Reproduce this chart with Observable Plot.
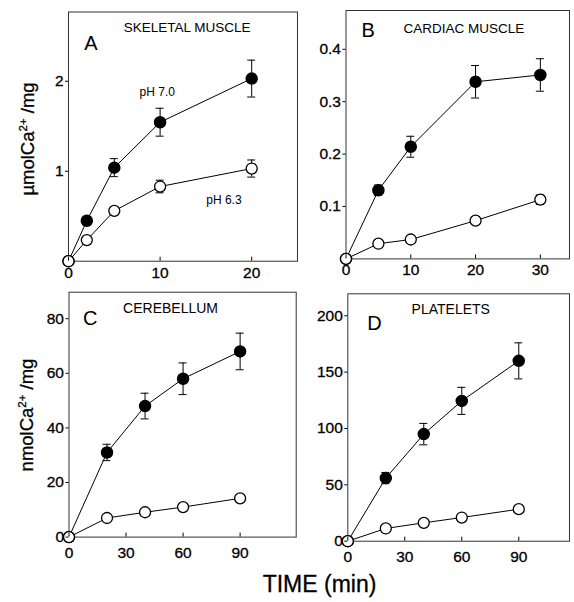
<!DOCTYPE html>
<html><head><meta charset="utf-8">
<script src="https://cdn.jsdelivr.net/npm/d3@7"></script>
<script src="https://cdn.jsdelivr.net/npm/@observablehq/plot@0.6"></script>
<style>
body{margin:0;background:#fff;}
#root{position:relative;width:574px;height:602px;font-family:"Liberation Sans",Arial,Helvetica,sans-serif;color:#000;background:#fff;overflow:hidden;}
.panel{position:absolute;}
.lab{position:absolute;white-space:nowrap;line-height:1;-webkit-text-stroke:0.3px #000;}
.lab sup{font-size:0.62em;line-height:0;vertical-align:0.6em;}
</style></head>
<body><div id="root"></div>
<script>
// ---- Panel A: skeletal muscle (µmol/mg) ----
const timeA = [0, 2, 5, 10, 20];
const skelPH70 = [0, 0.45, 1.04, 1.545, 2.03];
const skelPH70Err = [0, 0, 0.10, 0.155, 0.205];
const skelPH63 = [0, 0.235, 0.56, 0.83, 1.03];
const skelPH63Err = [0, 0, 0, 0.07, 0.095];
const xTicksA = [0, 10, 20];
const yTicksA = [1, 2];

// ---- Panel B: cardiac muscle (µmol/mg) ----
const timeB = [0, 5, 10, 20, 30];
const cardPH70 = [0, 0.131, 0.214, 0.338, 0.351];
const cardPH70Err = [0, 0.01, 0.02, 0.031, 0.031];
const cardPH63 = [0, 0.029, 0.037, 0.073, 0.113];
const cardPH63Err = [0, 0, 0, 0, 0.009];
const xTicksB = [0, 10, 20, 30];
const yTicksB = [0.1, 0.2, 0.3, 0.4];

// ---- Panel C: cerebellum (nmol/mg) ----
const timeC = [0, 20, 40, 60, 90];
const cereFilled = [0, 31, 48, 58, 68];
const cereFilledErr = [0, 3, 4.7, 5.8, 6.7];
const cereOpen = [0, 7, 9.1, 11, 14.2];
const cereOpenErr = [0, 0, 1, 1, 0];
const xTicksC = [0, 30, 60, 90];
const yTicksC = [0, 20, 40, 60, 80];

// ---- Panel D: platelets (nmol/mg) ----
const timeD = [0, 20, 40, 60, 90];
const platFilled = [0, 56, 95, 124.5, 160];
const platFilledErr = [0, 5, 9.5, 12, 16];
const platOpen = [0, 11.3, 16.3, 21, 28.4];
const platOpenErr = [0, 0, 0, 2.5, 0];
const xTicksD = [0, 30, 60, 90];
const yTicksD = [0, 50, 100, 150, 200];

// ---- annotation texts ----
const panelTitles = ["SKELETAL MUSCLE", "CARDIAC MUSCLE", "CEREBELLUM", "PLATELETS"];
const panelLetters = ["A", "B", "C", "D"];
const seriesLabels = ["pH 7.0", "pH 6.3"];
const yLabelMicro = "µmolCa";
const yLabelNano = "nmolCa";
const xLabel = "TIME (min)";

const FONT = '"Liberation Sans", Arial, Helvetica, sans-serif';
const root = document.getElementById("root");

function rows(time, vals, errs) {
  return time.map((t, i) => ({t, v: vals[i], e: errs[i]}));
}

function panel(cfg) {
  const F = rows(cfg.time, cfg.filled, cfg.filledErr);
  const O = rows(cfg.time, cfg.open, cfg.openErr);
  const E = F.concat(O).filter(d => d.e > 0);
  const caps = E.flatMap(d => [{t: d.t, y: d.v + d.e}, {t: d.t, y: d.v - d.e}]);
  const p = Plot.plot({
    width: cfg.w, height: cfg.h,
    marginLeft: cfg.ml, marginTop: cfg.mt, marginRight: cfg.mr, marginBottom: cfg.mb,
    style: {background: "transparent", fontFamily: FONT, fontSize: "15.5px", color: "#000", overflow: "visible"},
    x: {domain: cfg.xd},
    y: {domain: cfg.yd},
    marks: [
      Plot.frame({stroke: "#333", strokeWidth: 1}),
      Plot.line(F, {x: "t", y: "v", stroke: "black", strokeWidth: 1}),
      Plot.line(O, {x: "t", y: "v", stroke: "black", strokeWidth: 1}),
      Plot.ruleX(E, {x: "t", y1: d => d.v - d.e, y2: d => d.v + d.e, stroke: "black", strokeWidth: 1}),
      Plot.ruleY(caps, {y: "y", x1: "t", x2: "t", insetLeft: -4, insetRight: -4, stroke: "black", strokeWidth: 1}),
      Plot.dot(F, {x: "t", y: "v", r: 5.5, fill: "black", stroke: "black"}),
      Plot.dot(O, {x: "t", y: "v", r: 5.5, fill: "white", stroke: "black", strokeWidth: 1.3}),
      Plot.axisX({ticks: cfg.xt, tickSize: -4, tickPadding: cfg.xpad, fontSize: 15.5, label: null, tickFormat: d => String(d),
                  textStroke: "black", textStrokeWidth: 0.3}),
      Plot.axisY({ticks: cfg.yt, tickSize: 3, tickPadding: 2, fontSize: 15.5, label: null, tickFormat: d => String(d),
                  textStroke: "black", textStrokeWidth: 0.3}),
      Plot.text(cfg.annots, {x: "x", y: "y", text: "text", fontSize: "size", fontWeight: "weight", fill: "black", textAnchor: "middle"})
    ]
  });
  const div = document.createElement("div");
  div.className = "panel";
  div.style.left = cfg.left + "px";
  div.style.top = cfg.top + "px";
  div.appendChild(p);
  root.appendChild(div);
}

panel({
  left: 0, top: 0, w: 300, h: 290, ml: 68, mt: 11.5, mr: 3, mb: 29.3,
  time: timeA, filled: skelPH70, filledErr: skelPH70Err, open: skelPH63, openErr: skelPH63Err,
  xd: [0, 25], yd: [0, 2.77], xt: xTicksA, yt: yTicksA, xpad: 9.5,
  annots: [
    {x: 12.95, y: 2.597, text: panelTitles[0], size: 13.5, weight: "normal"},
    {x: 2.46, y: 2.416, text: panelLetters[0], size: 20, weight: "normal"},
    {x: 9.69, y: 1.882, text: seriesLabels[0], size: 12, weight: "bold"},
    {x: 16.97, y: 0.674, text: seriesLabels[1], size: 12, weight: "bold"}
  ]
});

panel({
  left: 300, top: 0, w: 274, h: 290, ml: 45.5, mt: 10, mr: 5, mb: 31.6,
  time: timeB, filled: cardPH70, filledErr: cardPH70Err, open: cardPH63, openErr: cardPH63Err,
  xd: [0, 34.5], yd: [0, 0.474], xt: xTicksB, yt: yTicksB, xpad: 8.7,
  annots: [
    {x: 18.2, y: 0.4394, text: panelTitles[1], size: 13.5, weight: "normal"},
    {x: 3.43, y: 0.4356, text: panelLetters[1], size: 20, weight: "normal"}
  ]
});

panel({
  left: 0, top: 290, w: 300, h: 270, ml: 68.5, mt: 1.7, mr: 4.3, mb: 23.4,
  time: timeC, filled: cereFilled, filledErr: cereFilledErr, open: cereOpen, openErr: cereOpenErr,
  xd: [0, 119.5], yd: [0, 89.7], xt: xTicksC, yt: yTicksC, xpad: 13.7,
  annots: [
    {x: 53.4, y: 83.9, text: panelTitles[2], size: 14, weight: "normal"},
    {x: 11.2, y: 80.0, text: panelLetters[2], size: 20, weight: "normal"}
  ]
});

panel({
  left: 300, top: 290, w: 274, h: 270, ml: 47.3, mt: 3.3, mr: 5, mb: 19.3,
  time: timeD, filled: platFilled, filledErr: platFilledErr, open: platOpen, openErr: platOpenErr,
  xd: [0, 116.7], yd: [0, 219.5], xt: xTicksD, yt: yTicksD, xpad: 13.7,
  annots: [
    {x: 54.2, y: 205.6, text: panelTitles[3], size: 14, weight: "normal"},
    {x: 14.05, y: 193.4, text: panelLetters[3], size: 20, weight: "normal"}
  ]
});

function addLabel(html, x, y, size, rotate) {
  const d = document.createElement("div");
  d.className = "lab";
  d.innerHTML = html;
  d.style.left = x + "px";
  d.style.top = y + "px";
  d.style.fontSize = size + "px";
  d.style.transform = "translate(-50%,-50%)" + (rotate ? " rotate(-90deg)" : "");
  root.appendChild(d);
}
addLabel(yLabelMicro + "<sup>2+</sup> /mg", 28, 139, 18.5, true);
addLabel(yLabelNano + "<sup>2+</sup> /mg", 27, 415, 18.5, true);
addLabel(xLabel, 319.5, 583.5, 23, false);
</script>
</body></html>
